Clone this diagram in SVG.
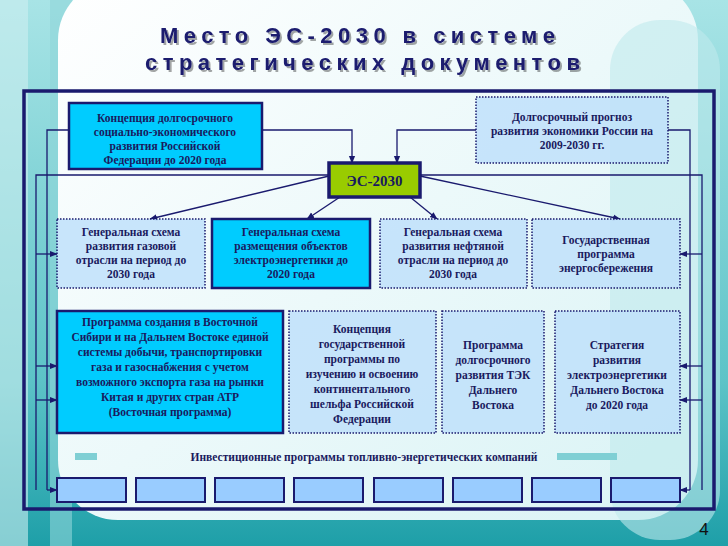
<svg xmlns="http://www.w3.org/2000/svg" width="728" height="546" viewBox="0 0 728 546">
<defs>
<linearGradient id="bg" x1="0" y1="0" x2="0" y2="1"><stop offset="0" stop-color="#a8e4e6"/><stop offset="0.7" stop-color="#5cc3c7"/><stop offset="1" stop-color="#1e9fa8"/></linearGradient>
<linearGradient id="panel" x1="0" y1="0" x2="1" y2="1"><stop offset="0" stop-color="#ffffff"/><stop offset="1" stop-color="#d9f3f5"/></linearGradient>
<filter id="sh" x="-5%" y="-20%" width="110%" height="140%"><feDropShadow dx="2" dy="2" stdDeviation="0.6" flood-color="#000" flood-opacity="0.35"/></filter>
<marker id="ar" viewBox="0 0 10 10" refX="9" refY="5" markerWidth="6" markerHeight="6" orient="auto"><path d="M0,1 L10,5 L0,9 z" fill="#1a1a6e"/></marker>
</defs>
<style>
.t{font-family:"Liberation Serif",serif;font-weight:bold;font-size:11.5px;fill:#1a1a5e;text-anchor:middle}
.solid{fill:#00ccff;stroke:#1a1a6e;stroke-width:2.5}
.dot{fill:#bfe0fa;fill-opacity:0.85;stroke:#1a1a6e;stroke-width:1.5;stroke-dasharray:1.5 1.5}
.bot{fill:#99ccff;stroke:#1a1a6e;stroke-width:2}
.c{fill:none;stroke:#1a1a6e;stroke-width:1.3}
.ca{fill:none;stroke:#1a1a6e;stroke-width:1.3;marker-end:url(#ar)}
</style>
<rect width="728" height="546" fill="url(#bg)"/>
<rect x="0" y="0" width="28" height="546" fill="#cdeff0" opacity="0.6"/>
<rect x="50" y="0" width="22" height="546" fill="#8fd6d8" opacity="0.6"/>
<rect x="58" y="-20" width="640" height="540" rx="60" fill="url(#panel)"/>
<rect x="610" y="20" width="110" height="520" rx="50" fill="#bfe9ec" opacity="0.6"/>
<rect x="24" y="91" width="690" height="418" fill="none" stroke="#1a1a6e" stroke-width="3.5"/>
<g font-family="Liberation Sans,sans-serif" font-weight="bold" font-size="22" fill="#1a1a6e" filter="url(#sh)">
<text x="160" y="43" textLength="395" lengthAdjust="spacing">Место ЭС-2030 в системе</text>
<text x="145" y="70" textLength="435" lengthAdjust="spacing">стратегических документов</text>
</g>
<g id="connectors">
<path class="ca" d="M262,130 H352 V163"/>
<path class="ca" d="M476,130 H397 V163"/>
<path class="ca" d="M329,176 L150,219"/>
<path class="ca" d="M340,197 L307,219"/>
<path class="ca" d="M410,197 L437,219"/>
<path class="ca" d="M420,176 L620,219"/>
<path class="c" d="M69,130 H47 V490"/>
<path class="ca" d="M47,490 H57"/>
<path class="c" d="M329,175 H36 V490"/>
<path class="ca" d="M36,254 H57"/>
<path class="ca" d="M36,366 H57"/>
<path class="ca" d="M36,400 H57"/>
<path class="c" d="M668,130 H690 V490"/>
<path class="ca" d="M690,490 H680"/>
<path class="c" d="M420,175 H702 V490"/>
<path class="ca" d="M702,254 H680"/>
<path class="ca" d="M702,366 H680"/>
<path class="ca" d="M702,400 H680"/>
</g>
<g id="n1"><rect class="solid" x="69" y="103" width="193" height="66"/>
<text class="t" x="165" y="122">Концепция долгосрочного</text><text class="t" x="165" y="136">социально-экономического</text><text class="t" x="165" y="150">развития Российской</text><text class="t" x="165" y="164">Федерации до 2020 года</text></g>
<g id="n2"><rect class="dot" x="476" y="97" width="192" height="66"/>
<text class="t" x="572" y="121">Долгосрочный прогноз</text><text class="t" x="572" y="135">развития экономики России на</text><text class="t" x="572" y="149">2009-2030 гг.</text></g>
<g id="es"><rect x="329" y="163" width="91" height="34" fill="#99cc00" stroke="#1a1a6e" stroke-width="3.5"/>
<text x="374.5" y="186" font-family="Liberation Serif,serif" font-weight="bold" font-size="15" fill="#1a1a5e" text-anchor="middle">ЭС-2030</text></g>
<g id="r1"><rect class="dot" x="57" y="219" width="148" height="69"/>
<text class="t" x="131" y="236">Генеральная схема</text><text class="t" x="131" y="250">развития газовой</text><text class="t" x="131" y="264">отрасли на период до</text><text class="t" x="131" y="278">2030 года</text></g>
<g id="r2"><rect class="solid" x="212" y="219" width="158" height="69"/>
<text class="t" x="291" y="236">Генеральная схема</text><text class="t" x="291" y="250">размещения объектов</text><text class="t" x="291" y="264">электроэнергетики до</text><text class="t" x="291" y="278">2020 года</text></g>
<g id="r3"><rect class="dot" x="380" y="219" width="147" height="69"/>
<text class="t" x="453" y="236">Генеральная схема</text><text class="t" x="453" y="250">развития нефтяной</text><text class="t" x="453" y="264">отрасли на период до</text><text class="t" x="453" y="278">2030 года</text></g>
<g id="r4"><rect class="dot" x="532" y="219" width="148" height="69"/>
<text class="t" x="606" y="244">Государственная</text><text class="t" x="606" y="258">программа</text><text class="t" x="606" y="272">энергосбережения</text></g>
<g id="e1"><rect class="solid" x="57" y="311" width="226" height="122"/>
<text class="t" x="170" y="326">Программа создания в Восточной</text><text class="t" x="170" y="341">Сибири и на Дальнем Востоке единой</text><text class="t" x="170" y="356">системы добычи, транспортировки</text><text class="t" x="170" y="371">газа и газоснабжения с учетом</text><text class="t" x="170" y="386">возможного экспорта газа на рынки</text><text class="t" x="170" y="401">Китая и других стран АТР</text><text class="t" x="170" y="416">(Восточная программа)</text></g>
<g id="e2"><rect class="dot" x="289" y="311" width="147" height="122"/>
<text class="t" x="362" y="333">Концепция</text><text class="t" x="362" y="348">государственной</text><text class="t" x="362" y="363">программы по</text><text class="t" x="362" y="378">изучению и освоению</text><text class="t" x="362" y="393">континентального</text><text class="t" x="362" y="408">шельфа Российской</text><text class="t" x="362" y="423">Федерации</text></g>
<g id="e3"><rect class="dot" x="442" y="311" width="102" height="122"/>
<text class="t" x="493" y="349">Программа</text><text class="t" x="493" y="364">долгосрочного</text><text class="t" x="493" y="379">развития ТЭК</text><text class="t" x="493" y="394">Дальнего</text><text class="t" x="493" y="409">Востока</text></g>
<g id="e4"><rect class="dot" x="555" y="311" width="125" height="122"/>
<text class="t" x="617" y="349">Стратегия</text><text class="t" x="617" y="364">развития</text><text class="t" x="617" y="379">электроэнергетики</text><text class="t" x="617" y="394">Дальнего Востока</text><text class="t" x="617" y="409">до 2020 года</text></g>
<rect x="75" y="453" width="22" height="7" fill="#7fcfd4"/>
<rect x="557" y="453" width="60" height="7" fill="#7fcfd4"/>
<text class="t" x="364" y="461" font-size="10.5">Инвестиционные программы топливно-энергетических компаний</text>
<g id="bottom">
<rect class="bot" x="57" y="478" width="69" height="24"/><rect class="bot" x="136" y="478" width="69" height="24"/><rect class="bot" x="215" y="478" width="69" height="24"/><rect class="bot" x="294" y="478" width="69" height="24"/><rect class="bot" x="374" y="478" width="69" height="24"/><rect class="bot" x="453" y="478" width="69" height="24"/><rect class="bot" x="532" y="478" width="69" height="24"/><rect class="bot" x="611" y="478" width="69" height="24"/>
</g>
<text x="704" y="535" font-family="Liberation Sans,sans-serif" font-size="17" fill="#111" text-anchor="middle">4</text>
</svg>
